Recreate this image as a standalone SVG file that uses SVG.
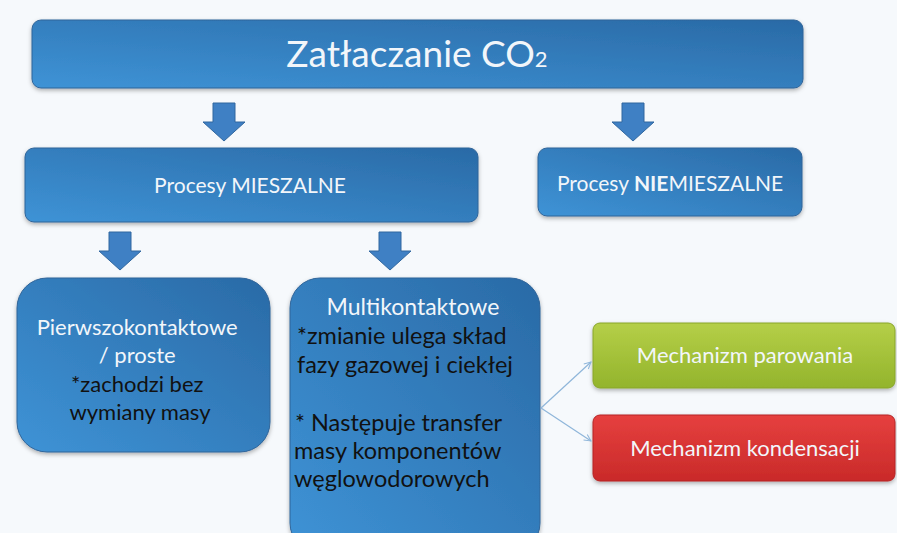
<svg xmlns="http://www.w3.org/2000/svg" width="897" height="533" viewBox="0 0 897 533">
<defs>
<linearGradient id="gBlue" x1="0" y1="1" x2="1" y2="0">
<stop offset="0" stop-color="#3e93d6"/>
<stop offset="1" stop-color="#2a6aa6"/>
</linearGradient>
<linearGradient id="gGreen" x1="0" y1="0" x2="0" y2="1">
<stop offset="0" stop-color="#b5cf48"/>
<stop offset="1" stop-color="#93b42c"/>
</linearGradient>
<linearGradient id="gRed" x1="0" y1="0" x2="0" y2="1">
<stop offset="0" stop-color="#e6403f"/>
<stop offset="1" stop-color="#c92a29"/>
</linearGradient>
<filter id="sh" x="-10%" y="-10%" width="120%" height="130%">
<feDropShadow dx="0" dy="2" stdDeviation="2" flood-color="#000" flood-opacity="0.3"/>
</filter>
<marker id="ah" viewBox="0 0 10 10" refX="9" refY="5" markerWidth="7" markerHeight="7" orient="auto">
<path d="M1,1 L9,5 L1,9" fill="none" stroke="#8fb6da" stroke-width="1.2"/>
</marker>
<path id="bigArrow" d="M-11,0 H11 V19 H21 L0,38 L-21,19 H-11 Z"/>
</defs>
<style>
.blue{fill:url(#gBlue);stroke:#2f6499;stroke-width:1;filter:url(#sh)}
.green{fill:url(#gGreen);stroke:#88a52a;stroke-width:1;filter:url(#sh)}
.red{fill:url(#gRed);stroke:#b52424;stroke-width:1;filter:url(#sh)}
.t{font-family:Lato,"Open Sans","Liberation Sans",sans-serif;}
.w{fill:#f2f6fa}
.k{fill:#111}
.arr{fill:#3f80c4;stroke:#30679f;stroke-width:1}
.con{fill:none;stroke:#8fb6da;stroke-width:1.2;marker-end:url(#ah)}
</style>
<rect x="0" y="0" width="897" height="533" fill="#f6f9fc"/>

<g id="n-zatlaczanie">
<rect class="blue" x="32" y="20" width="771" height="68" rx="9"/>
<text class="t w" x="417" y="67" font-size="37" text-anchor="middle">Zatłaczanie CO<tspan font-size="22">2</tspan></text>
</g>

<g id="n-mieszalne">
<rect class="blue" x="25" y="148" width="453" height="74" rx="9"/>
<text class="t w" x="250" y="193" font-size="21" text-anchor="middle">Procesy MIESZALNE</text>
</g>

<g id="n-niemieszalne">
<rect class="blue" x="538" y="148" width="264" height="68" rx="9"/>
<text class="t w" x="670" y="191" font-size="21" text-anchor="middle">Procesy <tspan font-weight="bold">NIE</tspan>MIESZALNE</text>
</g>

<g id="n-pierwszo">
<rect class="blue" x="17" y="278" width="253" height="174" rx="30"/>
<text class="t" font-size="22" text-anchor="middle">
<tspan class="w" x="140" y="335">Pierwszokontaktowe</tspan>
<tspan class="w" x="140" y="363">/ proste</tspan>
<tspan class="k" x="140" y="392">*zachodzi bez</tspan>
<tspan class="k" x="140" y="420">wymiany masy</tspan>
</text>
</g>

<g id="n-multi">
<rect class="blue" x="290" y="278" width="250" height="275" rx="30"/>
<text class="t w" x="413" y="315" font-size="23" text-anchor="middle">Multikontaktowe</text>
<text class="t k" font-size="23.5">
<tspan x="297" y="344">*zmianie ulega skład</tspan>
<tspan x="297" y="373">fazy gazowej i ciekłej</tspan>
<tspan x="295" y="431">* Następuje transfer</tspan>
<tspan x="294" y="459">masy komponentów</tspan>
<tspan x="294" y="487">węglowodorowych</tspan>
</text>
</g>

<g id="n-parowanie">
<rect class="green" x="593" y="323" width="302" height="65" rx="7"/>
<text class="t w" x="745" y="363" font-size="22" text-anchor="middle">Mechanizm parowania</text>
</g>

<g id="n-kondensacja">
<rect class="red" x="593" y="415" width="302" height="66" rx="7"/>
<text class="t w" x="745" y="456" font-size="22" text-anchor="middle">Mechanizm kondensacji</text>
</g>

<g id="connectors">
<use href="#bigArrow" class="arr" x="224" y="103"/>
<use href="#bigArrow" class="arr" x="633" y="103"/>
<use href="#bigArrow" class="arr" x="120" y="232"/>
<use href="#bigArrow" class="arr" x="390" y="232"/>
<path class="con" d="M541,408 L591,362"/>
<path class="con" d="M541,408 L591,441"/>
</g>
</svg>
